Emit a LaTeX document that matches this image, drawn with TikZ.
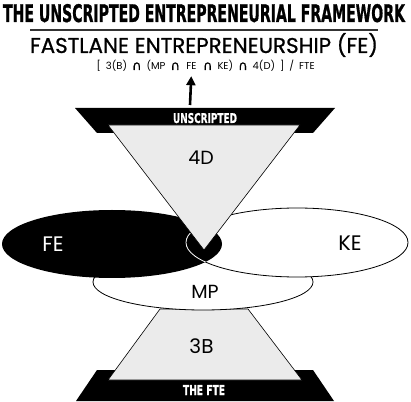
\documentclass[tikz,border=0pt]{standalone}
\usepackage{fontspec}
\setmainfont{Poppins}
\newfontfamily\headfont{DejaVu Sans}[FakeBold=1.2]
\newfontfamily\subfont{Poppins}[FakeBold=0.8]
\newfontfamily\capfont{DejaVu Sans}[FakeBold=0.6]
\usetikzlibrary{arrows.meta, positioning}
\tikzstyle{band} = [fill=black]
\tikzstyle{wedge} = [draw, fill=black!8, line width=0.6pt]
\tikzstyle{tag} = [inner sep=0pt]
\newcommand{\squeeze}[3]{\resizebox{#1}{#2}{\headfont\bfseries #3}}
\newcommand{\ca}{{\capfont\fontsize{13}{13}\selectfont\char"2229}}
\newcommand{\gap}{\hspace{5pt}}

\begin{document}
\begin{tikzpicture}[x=1pt,y=1pt,>=latex]
    \useasboundingbox (0,0) rectangle (411,401);
    % heading
    \node [tag, anchor=base] (title) at (204,379) {\squeeze{402pt}{18pt}{THE UNSCRIPTED ENTREPRENEURIAL FRAMEWORK}};
    \draw [line width=1.2pt, black!80] (30,371) -- (378,371);
    \node [tag, anchor=base] (sub) at (204,348) {\resizebox{348pt}{!}{\subfont FASTLANE ENTREPRENEURSHIP (FE)}};
    % formula
    \node [tag, anchor=base, font=\fontsize{10}{10}\selectfont] (fef) at (191.5,331) {FE};
    \node [tag, base left=6pt of fef, font=\fontsize{10}{10}\selectfont] (lhs) {[\gap3(B)\gap\ca\gap(MP\gap\ca};
    \node [tag, base right=6pt of fef, font=\fontsize{10}{10}\selectfont] (rhs) {\ca\gap KE)\gap\ca\gap4(D)\gap]\gap/\gap FTE};
    % bands and wedges
    \fill [band] (75,293) -- (335,293) -- (313,268) -- (97,268) -- cycle;
    \fill [band] (97,31) -- (313,31) -- (334,0) -- (76,0) -- cycle;
    \filldraw [wedge] (160,92) -- (248,92) -- (302,21) -- (108,21) -- cycle;
    % circles of the framework
    \filldraw [fill=white, line width=0.8pt] (203,119) ellipse [x radius=110pt, y radius=28pt];
    \filldraw [fill=white, line width=0.8pt] (297,158.5) ellipse [x radius=111pt, y radius=34.5pt];
    \fill (112,157) ellipse [x radius=110pt, y radius=34pt];
    \begin{scope}
        \clip (112,157) ellipse [x radius=110pt, y radius=34pt];
        \draw [white, line width=0.8pt] (297,158.5) ellipse [x radius=111pt, y radius=34.5pt];
    \end{scope}
    \filldraw [wedge] (108,276) -- (300,276) -- (204,151) -- cycle;
    % labels
    \node [tag, anchor=base, text=white] (top) at (205,278) {\squeeze{64pt}{10pt}{UNSCRIPTED}};
    \node [tag, anchor=base, text=white] (fte) at (204,6) {\squeeze{42pt}{10pt}{THE FTE}};
    \node [tag, font=\fontsize{19}{19}\selectfont] (d4) at (201,243) {4D};
    \node [tag, font=\fontsize{21}{21}\selectfont, text=white] (fe) at (53,157) {FE};
    \node [tag, font=\fontsize{21}{21}\selectfont] (ke) at (350,157.5) {KE};
    \node [tag, font=\fontsize{19}{19}\selectfont] (mp) at (205,109.5) {MP};
    \node [tag, font=\fontsize{20}{20}\selectfont] (b3) at (201.5,55) {3B};
    % pointer
    \coordinate (stem) at (190,296);
    \draw [-{Triangle[width=9pt,length=9pt]}, line width=2.6pt, shorten >=6pt] (stem) -- (fef.south);
\end{tikzpicture}
\end{document}
